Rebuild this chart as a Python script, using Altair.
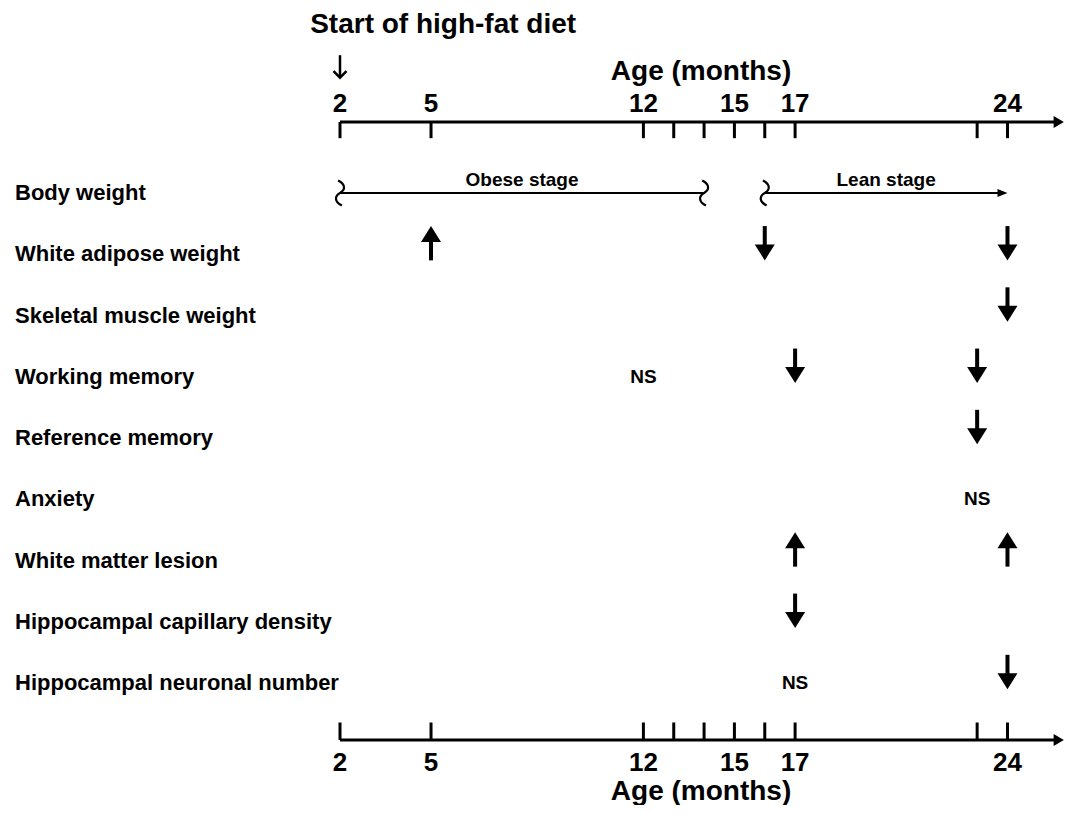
import altair as alt
import numpy as np
import pandas as pd

# ---------------- data ----------------
rows = ["Body weight", "White adipose weight", "Skeletal muscle weight", "Working memory",
        "Reference memory", "Anxiety", "White matter lesion", "Hippocampal capillary density",
        "Hippocampal neuronal number"]
tick_months = [2, 5, 12, 13, 14, 15, 16, 17, 23, 24]
labeled_months = [2, 5, 12, 15, 17, 24]
stage_names = ["Obese stage", "Lean stage"]
stage_start = [2, 16]
stage_end = [14, 24]
arrow_rows = ["White adipose weight", "White adipose weight", "White adipose weight",
              "Skeletal muscle weight", "Working memory", "Working memory", "Reference memory",
              "White matter lesion", "White matter lesion", "Hippocampal capillary density",
              "Hippocampal neuronal number"]
arrow_months = [5, 16, 24, 24, 17, 23, 23, 17, 24, 17, 24]
arrow_dirs = ["up", "down", "down", "down", "down", "down", "down", "up", "up", "down", "down"]
ns_rows = ["Working memory", "Anxiety", "Hippocampal neuronal number"]
ns_months = [12, 23, 17]
diet_start_month = 2
axis_end_month = 25.6
title_top = "Start of high-fat diet"
axis_title = "Age (months)"

# ---------------- layout ----------------
W, H = 1057, 797
PX = 30.34            # pixels per month
ROW = 61.25           # pixels per row
x_dom = [2 - 332 / PX, 2 + (W - 332) / PX]
y_dom = [-185 / ROW, (H - 185) / ROW]
xs = alt.Scale(domain=x_dom, nice=False, zero=False)
ys = alt.Scale(domain=y_dom, nice=False, zero=False, reverse=True)
FONT = "Liberation Sans"

TOP_LINE, TOP_TICK_END = -1.16, -0.895
BOT_LINE, BOT_TICK_END = 8.93, 8.645


def X(f):
    return alt.X(f, type="quantitative", scale=xs, axis=None)


def Y(f):
    return alt.Y(f, type="quantitative", scale=ys, axis=None)


# axis lines
axis_df = pd.DataFrame({"x": [diet_start_month] * 2, "x2": [axis_end_month] * 2,
                        "y": [TOP_LINE, BOT_LINE]})
axis_lines = alt.Chart(axis_df).mark_rule(color="black", strokeWidth=3).encode(
    x=X("x"), x2="x2", y=Y("y"))
axis_heads = alt.Chart(axis_df).transform_calculate(hx="datum.x2 + 0.08").mark_point(
    shape="M-0.8,-1L0.9,0L-0.8,1Z", size=144, filled=True, color="black", opacity=1,
    strokeWidth=0).encode(x=X("hx"), y=Y("y"))

# ticks
tk = pd.DataFrame({"m": tick_months * 2,
                   "y": [TOP_LINE] * len(tick_months) + [BOT_TICK_END] * len(tick_months),
                   "y2": [TOP_TICK_END] * len(tick_months) + [BOT_LINE] * len(tick_months)})
ticks = alt.Chart(tk).mark_rule(color="black", strokeWidth=3).encode(
    x=X("m"), y=Y("y"), y2="y2")

tl = pd.DataFrame({"m": labeled_months * 2,
                   "y": [-1.45] * len(labeled_months) + [9.30] * len(labeled_months)})
tl["lab"] = tl["m"].astype(str)
tick_labels = alt.Chart(tl).mark_text(font=FONT, fontWeight="bold", fontSize=26,
                                      align="center", baseline="middle", color="black").encode(
    x=X("m"), y=Y("y"), text="lab:N")

# titles
tt = pd.DataFrame({"t": [title_top, axis_title, axis_title],
                   "x": [5.4, 13.9, 13.9], "y": [-2.75, -1.98, 9.78]})
titles = alt.Chart(tt).mark_text(font=FONT, fontWeight="bold", fontSize=28, align="center",
                                 baseline="middle", color="black").encode(
    x=X("x"), y=Y("y"), text="t:N")

# start arrow
sa = pd.DataFrame({"x": [diet_start_month], "y": [-2.25], "y2": [-1.89], "hy": [-1.935]})
start_shaft = alt.Chart(sa).mark_rule(color="black", strokeWidth=2.5).encode(
    x=X("x"), y=Y("y"), y2="y2")
start_head = alt.Chart(sa).mark_point(shape="M-1,-0.5L0,0.5L1,-0.5", size=169, filled=False,
                                      color="black", opacity=1, strokeWidth=2.5).encode(
    x=X("x"), y=Y("hy"))

# row labels
rl = pd.DataFrame({"lab": rows, "y": list(range(len(rows)))})
row_labels = alt.Chart(rl).mark_text(font=FONT, fontWeight="bold", fontSize=22, align="left",
                                     baseline="middle", color="black").encode(
    x=alt.value(7), y=Y("y"), text="lab:N")

# stages (body weight row)
st = pd.DataFrame({"name": stage_names, "s": stage_start, "e": stage_end, "y": [0, 0]})
st["mid"] = (st["s"] + st["e"]) / 2
st["e_line"] = st["e"].astype(float)
st.loc[1, "e_line"] = st.loc[1, "e"] - 6 / PX
st["ly"] = -0.21
stage_lines = alt.Chart(st).mark_rule(color="black", strokeWidth=2).encode(
    x=X("s"), x2="e_line", y=Y("y"))
stage_text = alt.Chart(st).mark_text(font=FONT, fontWeight="bold", fontSize=19, align="center",
                                     baseline="middle", color="black").encode(
    x=X("mid"), y=Y("ly"), text="name:N")
sq = pd.DataFrame({"m": [stage_start[0], stage_end[0], stage_start[1]], "y": [0, 0, 0]})
squiggles = alt.Chart(sq).mark_point(
    shape="M-0.15,-1C0.45,-0.7 0.45,-0.25 0,0C-0.45,0.25 -0.45,0.7 0.15,1",
    size=625, filled=False, color="black", opacity=1, strokeWidth=2.2).encode(
    x=X("m"), y=Y("y"))
lh = pd.DataFrame({"m": [stage_end[1] - 5 / PX], "y": [0]})
lean_head = alt.Chart(lh).mark_point(shape="M-1,-0.8L1,0L-1,0.8Z", size=100, filled=True,
                                     color="black", opacity=1, strokeWidth=0).encode(
    x=X("m"), y=Y("y"))

# effect arrows
arr = pd.DataFrame({"row": [rows.index(r) for r in arrow_rows], "m": arrow_months,
                    "dir": arrow_dirs})
down = (arr["dir"] == "down").to_numpy()
arr["a"] = arr["row"] + np.where(down, -0.46, -0.23)
arr["b"] = arr["row"] + np.where(down, -0.13, 0.10)
arr["hy"] = arr["row"] + np.where(down, -0.03, -0.33)
shafts = alt.Chart(arr).mark_rule(color="black", strokeWidth=4).encode(
    x=X("m"), y=Y("a"), y2="b")
heads_down = alt.Chart(arr[down]).mark_point(shape="M-1,-0.8L1,-0.8L0,0.8Z", size=400,
                                             filled=True, color="black", opacity=1,
                                             strokeWidth=0).encode(x=X("m"), y=Y("hy"))
heads_up = alt.Chart(arr[~down]).mark_point(shape="M-1,0.8L1,0.8L0,-0.8Z", size=400,
                                            filled=True, color="black", opacity=1,
                                            strokeWidth=0).encode(x=X("m"), y=Y("hy"))

# NS labels
ns = pd.DataFrame({"row": [rows.index(r) for r in ns_rows], "m": ns_months, "t": ["NS"] * 3})
ns_text = alt.Chart(ns).mark_text(font=FONT, fontWeight="bold", fontSize=19, align="center",
                                  baseline="middle", color="black").encode(
    x=X("m"), y=Y("row"), text="t:N")

chart = alt.layer(
    axis_lines, axis_heads, ticks, tick_labels, titles, start_shaft, start_head,
    row_labels, stage_lines, stage_text, squiggles, lean_head,
    shafts, heads_down, heads_up, ns_text
).properties(
    width=W, height=H, padding=0, autosize=alt.AutoSizeParams(type="none"),
    background="white"
).configure_view(stroke=None)

chart.save("out.html", embed_options={"renderer": "svg", "actions": False})
